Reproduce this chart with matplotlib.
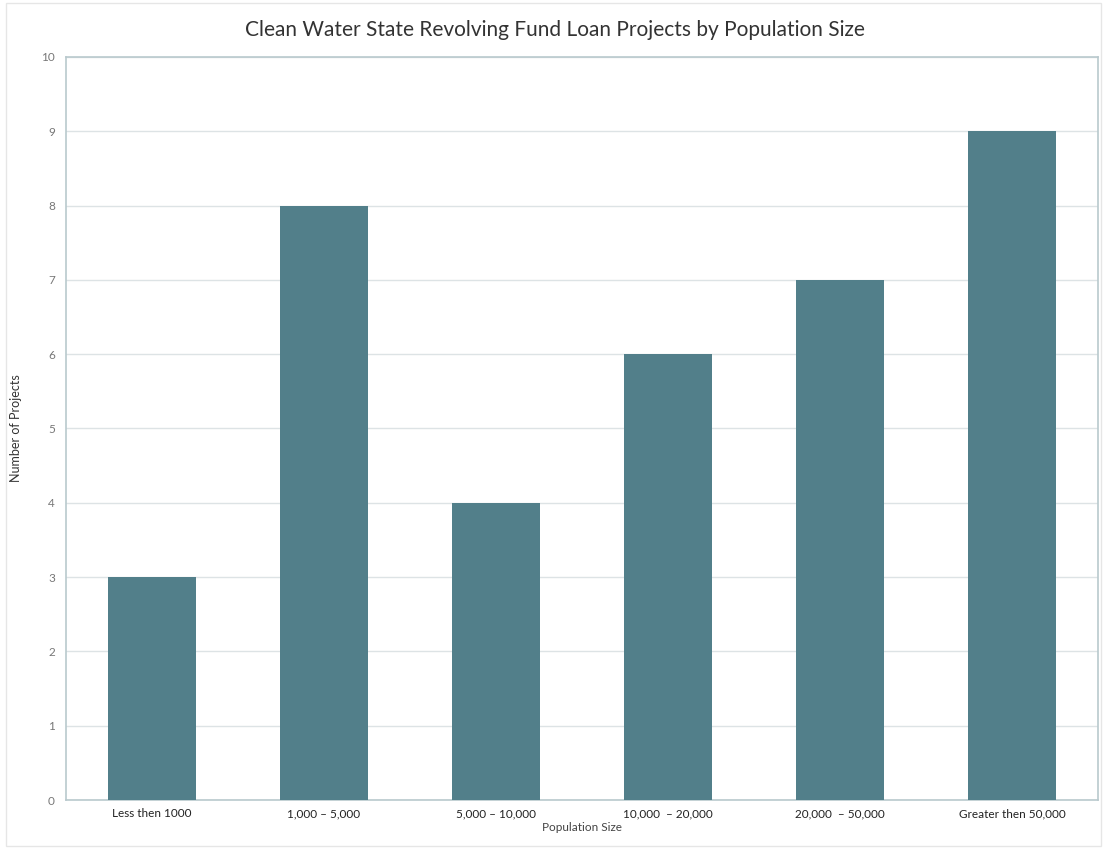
import matplotlib.pyplot as plt
from matplotlib.patches import Rectangle

categories = ["Less then 1000", "1,000 \u2013 5,000", "5,000 \u2013 10,000",
              "10,000  \u2013 20,000", "20,000  \u2013 50,000", "Greater then 50,000"]
projects = [3, 8, 4, 6, 7, 9]

plt.rcParams['font.family'] = ['Lato', 'DejaVu Sans']

fig = plt.figure(figsize=(11.07, 8.49), dpi=100)
ax = fig.add_axes([0.0596, 0.0577, 0.9325, 0.8752])

x = range(len(categories))
ax.bar(x, projects, width=0.51, color='#527f8a', zorder=3)

ax.set_xlim(-0.5, len(categories) - 0.5)
ax.set_ylim(0, 10)
ax.set_yticks(range(0, 11))
ax.set_xticks(list(x))
ax.set_xticklabels(categories, fontsize=8.5, color='#222222')
ax.tick_params(axis='y', labelsize=8.5, labelcolor='#777777', length=0, pad=8)
ax.tick_params(axis='x', length=0, pad=6)
ax.grid(axis='y', color='#dde3e5', linewidth=1, zorder=0)

for side in ['left', 'bottom', 'top', 'right']:
    ax.spines[side].set_color('#b9c9cd')
    ax.spines[side].set_linewidth(1.2)

fig.text(0.5015, 0.965, "Clean Water State Revolving Fund Loan Projects by Population Size",
         ha='center', va='center', fontsize=15, color='#333333')
ax.set_xlabel("Population Size", fontsize=8.5, color='#444444', labelpad=2)
ax.set_ylabel("Number of Projects", fontsize=9, color='#333333', labelpad=14)

fig.patches.append(Rectangle((0.005, 0.003), 0.99, 0.993, transform=fig.transFigure,
                             fill=False, edgecolor='#e6e6e6', linewidth=1))

fig.savefig("out.png", dpi=100)
